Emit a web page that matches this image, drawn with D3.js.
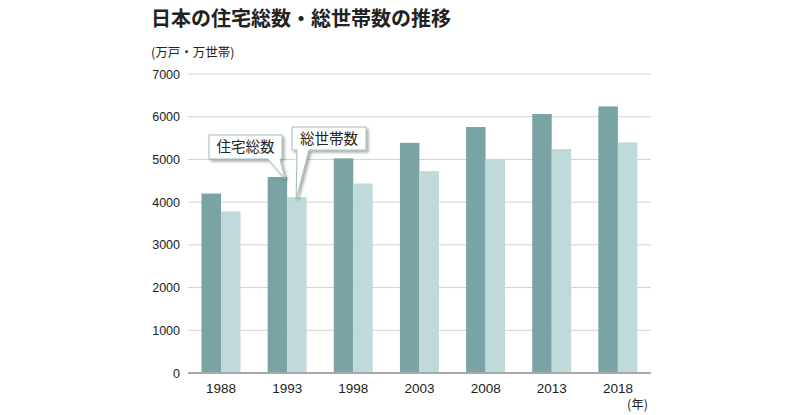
<!DOCTYPE html>
<html>
<head>
<meta charset="utf-8">
<script src="https://cdn.jsdelivr.net/npm/d3@7"></script>
<style>
  body { margin: 0; background: #fff; }
  text { font-family: "Noto Sans CJK JP", "Noto Sans", sans-serif; fill: #222; }
</style>
</head>
<body>
<svg id="chart"></svg>
<script>
// Data (万戸・万世帯)
const years = ['1988', '1993', '1998', '2003', '2008', '2013', '2018'];
const housing = [4201, 4588, 5025, 5389, 5759, 6063, 6241];     // 住宅総数
const households = [3781, 4116, 4436, 4726, 4997, 5245, 5400];  // 総世帯数
const seriesNames = ['住宅総数', '総世帯数'];
const yTicks = [0, 1000, 2000, 3000, 4000, 5000, 6000, 7000];

const width = 791, height = 415;
const colors = {'住宅総数': '#7aa3a6', '総世帯数': '#c0dadb'};

const svg = d3.select('#chart')
    .attr('width', width)
    .attr('height', height);

// drop shadow for callout boxes
const defs = svg.append('defs');
defs.append('filter')
    .attr('id', 'shadow')
    .attr('x', '-20%').attr('y', '-20%')
    .attr('width', '150%').attr('height', '160%')
  .append('feDropShadow')
    .attr('dx', 2).attr('dy', 2)
    .attr('stdDeviation', 1.5)
    .attr('flood-color', '#000')
    .attr('flood-opacity', 0.35);

// Scales
const x0 = d3.scaleBand().domain(years).range([188, 651]);
const x1 = d3.scaleBand().domain(seriesNames).range([13.5, 52.5]);
const y = d3.scaleLinear().domain([0, 7000]).range([373, 74]);

// Title + unit
svg.append('text')
    .attr('x', 151).attr('y', 26)
    .style('font-size', '20px')
    .style('font-weight', 'bold')
    .text('日本の住宅総数・総世帯数の推移');

svg.append('text')
    .attr('x', 151).attr('y', 57)
    .style('font-size', '12.5px')
    .text('(万戸・万世帯)');

// Gridlines
svg.append('g')
    .selectAll('line')
    .data(yTicks.filter(d => d > 0))
    .join('line')
      .attr('x1', 188).attr('x2', 651)
      .attr('y1', d => y(d)).attr('y2', d => y(d))
      .attr('stroke', '#d2d2d2')
      .attr('stroke-width', 1);

// Y axis labels
const yAxis = d3.axisLeft(y).tickValues(yTicks).tickSize(0).tickPadding(8).tickFormat(d3.format('d'));
svg.append('g')
    .attr('transform', 'translate(188,0)')
    .call(yAxis)
    .call(g => g.select('.domain').remove())
    .call(g => g.selectAll('text')
        .style('font-size', '12.5px')
        .style('font-family', '"Liberation Sans", Arial, sans-serif')
        .attr('fill', '#111'));

// Bars
const rows = years.map((yr, i) => ({year: yr, values: [
    {key: '住宅総数', value: housing[i]},
    {key: '総世帯数', value: households[i]}
]}));

svg.append('g')
    .selectAll('g')
    .data(rows)
    .join('g')
      .attr('transform', d => `translate(${x0(d.year)},0)`)
    .selectAll('rect')
    .data(d => d.values)
    .join('rect')
      .attr('x', d => x1(d.key))
      .attr('width', x1.bandwidth())
      .attr('y', d => y(d.value))
      .attr('height', d => y(0) - y(d.value))
      .attr('fill', d => colors[d.key]);

// Baseline
svg.append('line')
    .attr('x1', 188).attr('x2', 651)
    .attr('y1', y(0)).attr('y2', y(0))
    .attr('stroke', '#a8a8a8')
    .attr('stroke-width', 2);

// X axis labels
const xAxis = d3.axisBottom(x0).tickSize(0).tickPadding(10);
svg.append('g')
    .attr('transform', `translate(0,${y(0)})`)
    .call(xAxis)
    .call(g => g.select('.domain').remove())
    .call(g => g.selectAll('text')
        .style('font-size', '13.5px')
        .style('font-family', '"Liberation Sans", Arial, sans-serif')
        .attr('fill', '#111'));

svg.append('text')
    .attr('x', 648).attr('y', 409)
    .attr('text-anchor', 'end')
    .style('font-size', '12.5px')
    .text('(年)');

// Callouts pointing at 1993 bars
const callYear = '1993';
const callIdx = years.indexOf(callYear);
const callouts = [
    {label: '住宅総数', box: [209, 135, 73, 24],
     tip: [x0(callYear) + x1('住宅総数') + x1.bandwidth() - 2, y(housing[callIdx]) + 2],
     base: [268, 280]},
    {label: '総世帯数', box: [292, 127, 74, 23],
     tip: [x0(callYear) + x1('総世帯数') + 9, y(households[callIdx]) + 2],
     base: [297, 309]}
];

callouts.forEach(c => {
    const [bx, by, bw, bh] = c.box;
    const bottom = by + bh;
    const path = `M${bx},${by} H${bx + bw} V${bottom} H${c.base[1]} L${c.tip[0]},${c.tip[1]} L${c.base[0]},${bottom} H${bx} Z`;
    svg.append('path')
        .attr('d', path)
        .attr('fill', '#fff')
        .attr('stroke', '#9fbcbe')
        .attr('stroke-width', 1)
        .attr('filter', 'url(#shadow)');
    svg.append('text')
        .attr('x', bx + bw / 2)
        .attr('y', by + bh / 2 + 5)
        .attr('text-anchor', 'middle')
        .style('font-size', '14.5px')
        .text(c.label);
});
</script>
</body>
</html>
